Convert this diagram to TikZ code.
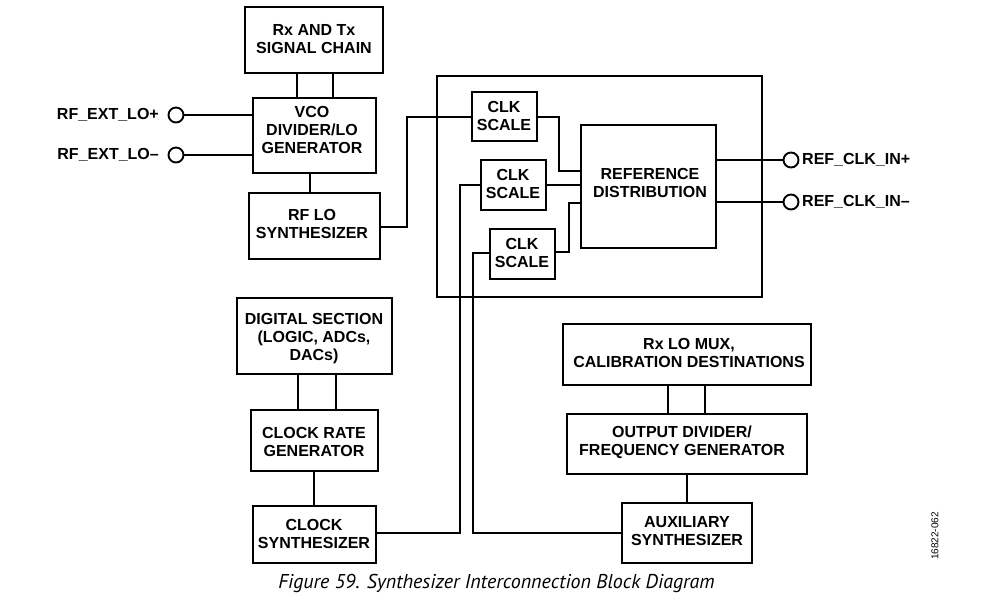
\documentclass[tikz,border=0pt]{standalone}
\usepackage{fontspec}
\setmainfont{Liberation Sans}
\newfontfamily\capfont{PT Sans}
\begin{document}
\begin{tikzpicture}[x=1pt,y=-1pt,
  box/.style={draw,line width=1.9pt,inner sep=0pt,rectangle},
  txt/.style={font=\fontsize{16}{18}\selectfont\bfseries,align=center,inner sep=0pt},
  wire/.style={line width=1.9pt},
  pin/.style={draw,line width=1.9pt,circle,minimum size=15pt,inner sep=0pt}]
\useasboundingbox (0,0) rectangle (987,605);
% boxes
\node[box,minimum width=138pt,minimum height=66pt] (rxtx) at (314,40) {};
\node[box,minimum width=123pt,minimum height=75pt] (vco) at (314.5,135.5) {};
\node[box,minimum width=131pt,minimum height=66pt] (rflo) at (314.5,226) {};
\node[box,minimum width=325pt,minimum height=221pt] (big) at (599.5,186.5) {};
\node[box,minimum width=65pt,minimum height=49pt] (clk1) at (504.5,116.5) {};
\node[box,minimum width=65pt,minimum height=50pt] (clk2) at (513.5,185) {};
\node[box,minimum width=65pt,minimum height=50pt] (clk3) at (522.5,254) {};
\node[box,minimum width=135pt,minimum height=123pt] (refd) at (648.5,186.5) {};
\node[box,minimum width=155pt,minimum height=76pt] (digi) at (314.5,336) {};
\node[box,minimum width=127pt,minimum height=61pt] (crate) at (314.5,440.5) {};
\node[box,minimum width=123pt,minimum height=57pt] (csyn) at (314.5,534.5) {};
\node[box,minimum width=248pt,minimum height=61pt] (rxlo) at (687,354.5) {};
\node[box,minimum width=240pt,minimum height=60pt] (odiv) at (687,444) {};
\node[box,minimum width=130pt,minimum height=60pt] (aux) at (687,533) {};
% texts
\node[txt] (rxtx-t) at (314,39.5) {Rx AND Tx\\SIGNAL CHAIN};
\node[txt] (vco-t) at (312,130) {VCO\\DIVIDER/LO\\GENERATOR};
\node[txt] (rflo-t) at (312,224) {RF LO\\SYNTHESIZER};
\node[txt] (clk1-t) at (504,115.5) {CLK\\SCALE};
\node[txt] (clk2-t) at (513,184) {CLK\\SCALE};
\node[txt] (clk3-t) at (522,252.5) {CLK\\SCALE};
\node[txt] (refd-t) at (650,182.5) {REFERENCE\\DISTRIBUTION};
\node[txt] (digi-t) at (314,339) {DIGITAL SECTION\\(LOGIC, ADCs,\\DACs)};
\node[txt] (crate-t) at (314,442) {CLOCK RATE\\GENERATOR};
\node[txt] (csyn-t) at (314,533.5) {CLOCK\\SYNTHESIZER};
\node[txt] (rxlo-t) at (689,352.5) {Rx LO MUX,\\CALIBRATION DESTINATIONS};
\node[txt] (odiv-t) at (682,442.5) {OUTPUT DIVIDER/\\FREQUENCY GENERATOR};
\node[txt] (aux-t) at (687,531) {AUXILIARY\\SYNTHESIZER};
% pins
\node[pin] (lop) at (176,115) {};
\node[pin] (lom) at (176,155) {};
\node[pin] (rcp) at (791,160) {};
\node[pin] (rcm) at (791,202) {};
\node[txt,anchor=east] (lop-t) at (159,115) {RF\_EXT\_LO+};
\node[txt,anchor=east] (lom-t) at (159,155) {RF\_EXT\_LO–};
\node[txt,anchor=west] (rcp-t) at (802,160) {REF\_CLK\_IN+};
\node[txt,anchor=west] (rcm-t) at (802,202) {REF\_CLK\_IN–};
% wires
\draw[wire] (rxtx.south -| 297,0) -- (vco.north -| 297,0);
\draw[wire] (rxtx.south -| 333,0) -- (vco.north -| 333,0);
\draw[wire] (vco.south -| 310,0) -- (rflo.north -| 310,0);
\draw[wire] (lop.east) -- (vco.west |- lop.east);
\draw[wire] (lom.east) -- (vco.west |- lom.east);
\draw[wire] (rflo.east |- 0,227) -- (407,227) |- (clk1.west |- 0,117);
\draw[wire] (clk1.east |- 0,117) -- (559,117) |- (refd.west |- 0,171);
\draw[wire] (clk2.east) -- (refd.west |- clk2.east);
\draw[wire] (clk3.east |- 0,252) -- (569,252) |- (refd.west |- 0,203);
\draw[wire] (refd.east |- rcp.west) -- (rcp.west);
\draw[wire] (refd.east |- rcm.west) -- (rcm.west);
\draw[wire] (clk2.west) -- (460,185) |- (csyn.east |- 0,533);
\draw[wire] (clk3.west |- 0,253) -- (473,253) |- (aux.west |- 0,533);
\draw[wire] (digi.south -| 298,0) -- (crate.north -| 298,0);
\draw[wire] (digi.south -| 336,0) -- (crate.north -| 336,0);
\draw[wire] (crate.south -| 314,0) -- (csyn.north -| 314,0);
\draw[wire] (rxlo.south -| 668,0) -- (odiv.north -| 668,0);
\draw[wire] (rxlo.south -| 705,0) -- (odiv.north -| 705,0);
\draw[wire] (odiv.south -| 687,0) -- (aux.north -| 687,0);
% caption and id
\node[inner sep=0pt,font=\capfont\itshape\fontsize{20}{22}\selectfont] (cap) at (496.5,583) {Figure 59. Synthesizer Interconnection Block Diagram};
\node[inner sep=0pt,rotate=90,font=\fontsize{10}{11}\selectfont] (fid) at (935,536) {16822-062};
\end{tikzpicture}
\end{document}
